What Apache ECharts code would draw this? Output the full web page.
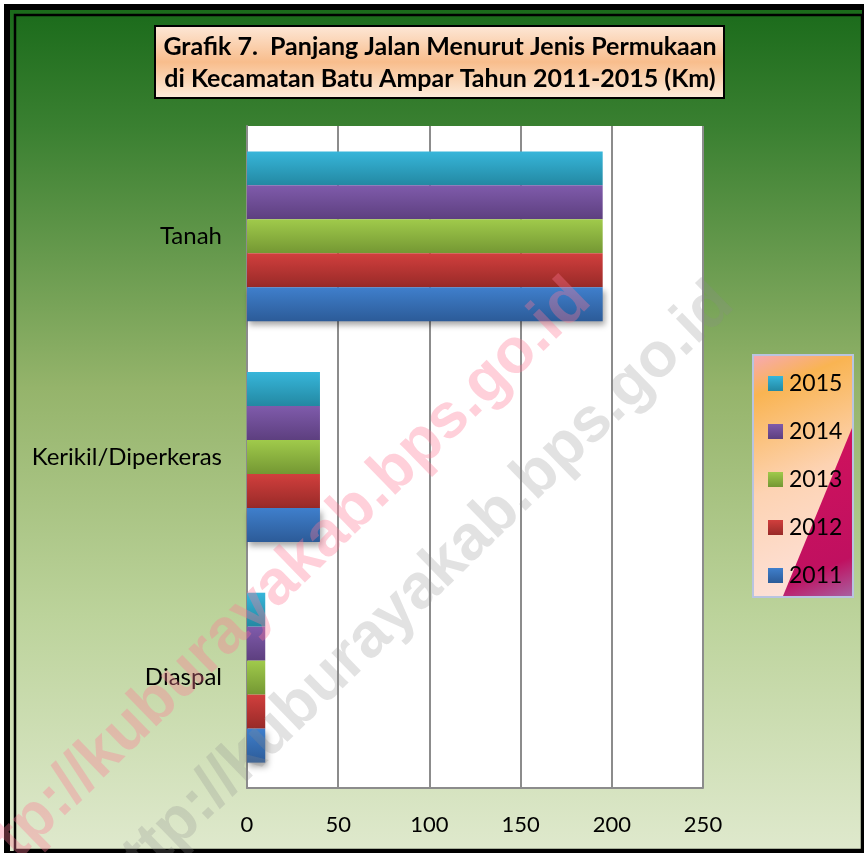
<!DOCTYPE html>
<html>
<head>
<meta charset="utf-8">
<title>Grafik 7</title>
<script src="https://cdn.jsdelivr.net/npm/echarts@6/dist/echarts.min.js"></script>
<style>
  html, body { margin: 0; padding: 0; background: #ffffff; }
  #chart { width: 868px; height: 853px; }
</style>
</head>
<body>
<div id="chart"></div>
<script>
// data dari grafik (Km)
const kategori = ['Diaspal', 'Kerikil/Diperkeras', 'Tanah'];
const tahun = ['2011', '2012', '2013', '2014', '2015'];
const data2011 = [10, 40, 195];
const data2012 = [10, 40, 195];
const data2013 = [10, 40, 195];
const data2014 = [10, 40, 195];
const data2015 = [10, 40, 195];
const sumbuX = [0, 50, 100, 150, 200, 250];

const nilai = [data2011, data2012, data2013, data2014, data2015];
// warna atas / bawah tiap batang
const warna = [
  ['#3f7fcc', '#2c5b98'],
  ['#d13f3d', '#982a28'],
  ['#a0ca4b', '#749733'],
  ['#7f5bab', '#5d3f7f'],
  ['#37b6da', '#2388a2']
];

const font = 'Lato, "Open Sans", sans-serif';
const grad = (a, b) => new echarts.graphic.LinearGradient(0, 0, 0, 1, [
  { offset: 0, color: a }, { offset: 1, color: b }
]);

const myChart = echarts.init(document.getElementById('chart'));

// seri pertama digambar paling atas, jadi urutan dibalik (2015 dulu)
const series = tahun.map((t, i) => ({
  name: t,
  type: 'bar',
  data: nilai[i],
  barGap: '0%',
  barCategoryGap: '23%',
  z: 3,
  itemStyle: Object.assign(
    { color: grad(warna[i][0], warna[i][1]) },
    // bayangan hanya di batang paling bawah
    i === 0 ? { shadowColor: 'rgba(0,0,0,0.35)', shadowBlur: 6, shadowOffsetY: 4, shadowOffsetX: 2 } : {}
  )
})).reverse();

const options = {
  animation: false,
  textStyle: { fontFamily: font },
  graphic: [
    // bingkai luar
    { type: 'rect', z: -10, shape: { x: 4, y: 4, width: 860, height: 849 }, style: { fill: '#000' } },
    {
      type: 'rect', z: -9, shape: { x: 10, y: 10, width: 852, height: 841 },
      style: {
        fill: new echarts.graphic.LinearGradient(0, 0, 0, 1, [
          { offset: 0, color: '#1b6b1b' },
          { offset: 0.14, color: '#3a8031' },
          { offset: 0.45, color: '#95b46b' },
          { offset: 0.72, color: '#bcd39b' },
          { offset: 1, color: '#dfe9cd' }
        ])
      }
    },
    { type: 'rect', z: -8, shape: { x: 15, y: 15, width: 847, height: 835 }, style: { fill: 'none', stroke: '#000', lineWidth: 2.5 } },
    // kotak judul
    {
      type: 'rect', z: 5, shape: { x: 155, y: 26, width: 569, height: 72 },
      style: {
        stroke: '#000', lineWidth: 2,
        fill: new echarts.graphic.LinearGradient(0, 0, 0, 1, [
          { offset: 0, color: '#fde8d8' },
          { offset: 0.5, color: '#f8bd8c' },
          { offset: 1, color: '#fdeedf' }
        ])
      }
    },
    {
      type: 'text', z: 6, x: 440, y: 47,
      style: {
        text: 'Grafik 7.  Panjang Jalan Menurut Jenis Permukaan',
        font: 'bold 25px ' + font, fill: '#000', align: 'center', verticalAlign: 'middle'
      }
    },
    {
      type: 'text', z: 6, x: 440, y: 79,
      style: {
        text: 'di Kecamatan Batu Ampar Tahun 2011-2015 (Km)',
        font: 'bold 25px ' + font, fill: '#000', align: 'center', verticalAlign: 'middle'
      }
    },
    // latar legenda
    {
      type: 'rect', z: 1, shape: { x: 753, y: 355, width: 100, height: 242 },
      style: {
        stroke: '#b9c4e0', lineWidth: 2,
        fill: new echarts.graphic.LinearGradient(0, 0, 1, 1, [
          { offset: 0, color: '#f7a8b8' },
          { offset: 0.15, color: '#f9b452' },
          { offset: 0.5, color: '#fdd3b3' },
          { offset: 1, color: '#fde4e2' }
        ])
      }
    },
    {
      type: 'polygon', z: 2,
      shape: { points: [[852, 428], [852, 596], [783, 596]] },
      style: {
        fill: new echarts.graphic.LinearGradient(0, 0, 1, 1, [
          { offset: 0, color: '#d2125c' },
          { offset: 0.8, color: '#c01060' },
          { offset: 1, color: '#a860a0' }
        ])
      }
    },
    // tanda air
    {
      type: 'text', z: 50, x: 272, y: 590, rotation: 0.77,
      style: {
        text: 'http://kuburayakab.bps.go.id', font: 'bold 63px "Liberation Sans", Arial, sans-serif',
        fill: 'rgba(255,120,150,0.35)', align: 'center', verticalAlign: 'middle'
      }
    },
    {
      type: 'text', z: 50, x: 415, y: 594, rotation: 0.77,
      style: {
        text: 'http://kuburayakab.bps.go.id', font: 'bold 63px "Liberation Sans", Arial, sans-serif',
        fill: 'rgba(140,140,140,0.25)', align: 'center', verticalAlign: 'middle'
      }
    }
  ],
  legend: {
    orient: 'vertical',
    left: 763,
    top: 367,
    data: tahun.slice().reverse(),
    itemWidth: 15,
    itemHeight: 15,
    itemGap: 25,
    icon: 'rect',
    textStyle: { fontSize: 23, color: '#000', fontFamily: font, padding: [0, 0, 0, 1] },
    z: 3
  },
  grid: {
    left: 247,
    right: 165,
    top: 126,
    bottom: 65,
    show: true,
    backgroundColor: '#ffffff',
    borderWidth: 0,
    z: 0
  },
  xAxis: {
    type: 'value',
    min: sumbuX[0],
    max: sumbuX[sumbuX.length - 1],
    interval: 50,
    axisLine: { show: true, lineStyle: { color: '#8c8c8c', width: 2 } },
    axisTick: { show: false },
    axisLabel: { fontSize: 22, color: '#000', margin: 26, fontFamily: font },
    splitLine: { show: true, lineStyle: { color: '#8c8c8c', width: 2 } }
  },
  yAxis: {
    type: 'category',
    data: kategori,
    axisLine: { show: true, lineStyle: { color: '#8c8c8c', width: 2 } },
    axisTick: { show: false },
    axisLabel: { fontSize: 24, color: '#000', margin: 25, fontFamily: font }
  },
  series: series
};

myChart.setOption(options);
</script>
</body>
</html>
